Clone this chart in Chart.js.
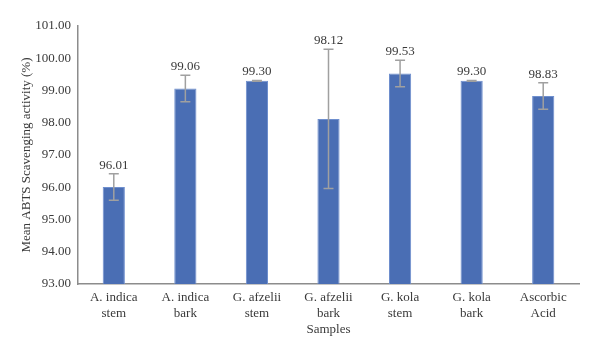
<!DOCTYPE html>
<html><head><meta charset="utf-8">
<script src="https://cdn.jsdelivr.net/npm/chart.js@4/dist/chart.umd.min.js"></script>
<style>html,body{margin:0;padding:0;background:#fff}#wrap{width:600px;height:357px}</style>
</head><body><div id="wrap"><canvas id="c" width="600" height="357"></canvas></div>
<script>
const categories = [["A. indica","stem"],["A. indica","bark"],["G. afzelii","stem"],["G. afzelii","bark"],["G. kola","stem"],["G. kola","bark"],["Ascorbic","Acid"]];
const meanValues = [96.01, 99.06, 99.30, 98.12, 99.53, 99.30, 98.83];
const errorValues = [0.41, 0.41, 0.01, 2.16, 0.41, 0.01, 0.41];
const yTicks = [93, 94, 95, 96, 97, 98, 99, 100, 101];

const FONT = "'Liberation Serif', 'DejaVu Serif', serif";
const TEXT = '#3a3a3a';

const errorBarPlugin = {
  id: 'errorBars',
  afterDatasetsDraw(chart) {
    const ctx = chart.ctx;
    const meta = chart.getDatasetMeta(0);
    const y = chart.scales.y;
    ctx.save();
    meta.data.forEach((bar, i) => {
      const v = meanValues[i], e = errorValues[i];
      const yt = y.getPixelForValue(v + e), yb = y.getPixelForValue(v - e);
      const x = bar.x;
      ctx.strokeStyle = '#a0a0a0';
      ctx.lineWidth = 1.5;
      ctx.beginPath();
      ctx.moveTo(x, yt); ctx.lineTo(x, yb);
      ctx.moveTo(x - 5, yt); ctx.lineTo(x + 5, yt);
      ctx.moveTo(x - 5, yb); ctx.lineTo(x + 5, yb);
      ctx.stroke();
      ctx.fillStyle = TEXT;
      ctx.font = '13px ' + FONT;
      ctx.textAlign = 'center';
      ctx.textBaseline = 'bottom';
      ctx.fillText(v.toFixed(2), x, Math.min(yt, bar.y) - 2);
    });
    ctx.restore();
  }
};

new Chart(document.getElementById('c'), {
  type: 'bar',
  data: {
    labels: categories,
    datasets: [{
      data: meanValues,
      backgroundColor: '#4a6eb4',
      borderColor: '#6f8fce',
      borderWidth: {left:1,right:1,top:1,bottom:0},
      categoryPercentage: 1.0,
      barPercentage: 0.31
    }]
  },
  options: {
    responsive: false,
    animation: false,
    devicePixelRatio: 1,
    layout: { padding: { top: 26, right: 21, left: 0, bottom: 4 } },
    plugins: { legend: { display: false }, tooltip: { enabled: false } },
    scales: {
      y: {
        min: 93, max: 101,
        afterBuildTicks(scale) { scale.ticks = yTicks.map(v => ({ value: v })); },
        afterFit(scale) { scale.width = 78; },
        grid: { display: false, drawTicks: false },
        border: { display: true, color: '#8c8c8c', width: 1.5 },
        ticks: { color: TEXT, font: { family: FONT, size: 13 }, padding: 7, callback: v => Number(v).toFixed(2) },
        title: { display: true, text: 'Mean ABTS Scavenging activity (%)', color: TEXT, font: { family: FONT, size: 13 }, padding: { top: 19, bottom: 0 } }
      },
      x: {
        grid: { display: false, drawTicks: false },
        border: { display: true, color: '#8c8c8c', width: 1.5 },
        ticks: { color: TEXT, font: { family: FONT, size: 13, lineHeight: 1.25 }, padding: 5, maxRotation: 0, autoSkip: false },
        title: { display: true, text: 'Samples', color: TEXT, font: { family: FONT, size: 13 }, padding: { top: 0, bottom: 16 } },
        afterFit(scale) { scale.height = 357 - 284 - 4; }
      }
    }
  },
  plugins: [errorBarPlugin]
});
</script></body></html>
